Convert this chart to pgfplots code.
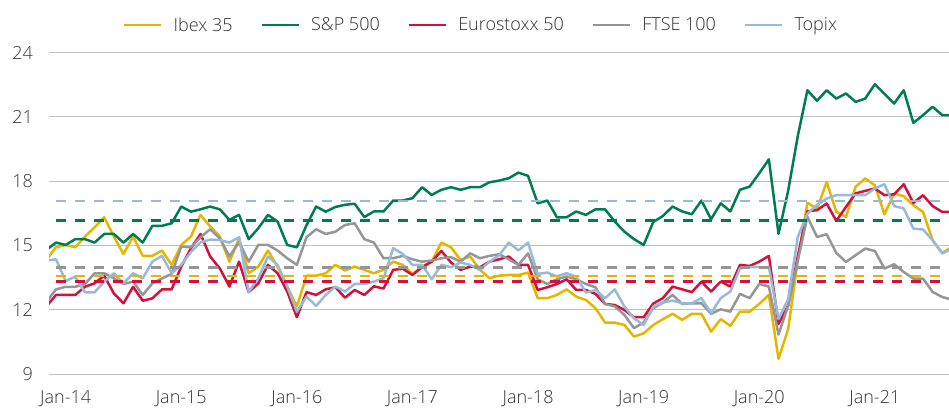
\documentclass[border=0pt]{standalone}
\usepackage{fontspec}
\setmainfont{Open Sans}[UprightFont={* Light}]
\usepackage{pgfplots}
\pgfplotsset{compat=1.18}
\usepackage{pgfplotstable}
\definecolor{ibex}{RGB}{229,181,0}
\definecolor{spx}{RGB}{0,125,80}
\definecolor{euro}{RGB}{210,18,60}
\definecolor{ftse}{RGB}{150,150,150}
\definecolor{topix}{RGB}{150,185,220}
\definecolor{gridc}{RGB}{192,192,192}
\definecolor{txt}{RGB}{50,50,50}
\pgfplotstableread{
m ibex sp euro ftse topix
-2 14.35 14.80 12.17 12.38 14.30
-1 14.92 15.14 12.70 12.96 14.36
0 15.03 15.03 12.70 13.08 13.35
1 14.92 15.30 12.70 13.08 13.55
2 15.42 15.30 13.08 13.21 12.82
3 15.85 15.14 13.24 13.71 12.82
4 16.32 15.54 13.60 13.71 13.32
5 15.42 15.54 12.77 13.47 13.71
6 14.61 15.14 12.31 13.21 13.24
7 15.42 15.54 13.08 13.32 13.71
8 14.52 15.14 12.43 12.70 13.47
9 14.52 15.92 12.54 13.24 14.25
10 14.77 15.92 12.96 13.47 14.52
11 14.10 16.04 12.96 13.68 13.71
12 15.03 16.82 14.02 14.95 14.10
13 15.42 16.58 14.87 14.92 14.70
14 16.43 16.69 15.54 15.39 15.15
15 15.89 16.82 14.49 15.76 15.28
16 15.42 16.69 13.94 15.34 15.26
17 14.25 16.20 13.09 14.50 15.14
18 15.34 16.43 14.25 15.15 15.39
19 13.71 15.30 12.83 14.25 12.83
20 14.02 15.81 13.24 15.03 13.48
21 14.77 16.43 14.10 15.03 14.49
22 14.02 16.12 13.71 14.77 14.10
23 13.09 15.03 12.86 14.41 13.09
24 12.16 14.92 11.66 14.10 11.92
25 13.60 15.95 12.83 15.39 12.62
26 13.60 16.82 12.70 15.76 12.19
27 13.71 16.58 12.96 15.54 12.70
28 14.10 16.80 13.06 15.65 13.09
29 13.84 16.90 12.57 15.96 12.86
30 14.02 16.95 12.93 16.04 13.21
31 13.87 16.33 12.70 15.30 13.21
32 13.71 16.59 13.10 15.14 13.32
33 13.87 16.59 13.00 14.41 13.48
34 14.25 17.10 13.87 14.41 14.88
35 14.10 17.10 13.92 14.52 14.61
36 13.68 17.21 13.63 14.36 14.10
37 14.02 17.72 13.99 14.25 14.10
38 14.25 17.36 14.25 14.30 13.43
39 15.14 17.60 14.75 14.41 14.10
40 14.92 17.72 14.21 14.46 13.99
41 14.33 17.60 13.87 14.25 14.21
42 14.49 17.72 14.02 14.64 14.10
43 13.87 17.72 13.99 14.41 13.87
44 13.48 17.95 14.25 14.52 14.25
45 13.60 18.03 14.36 14.60 14.55
46 13.63 18.14 14.49 14.36 15.14
47 13.63 18.40 14.10 14.10 14.77
48 13.74 18.25 14.10 14.64 15.14
49 12.55 16.97 12.93 13.43 13.68
50 12.55 17.10 13.06 13.21 13.74
51 12.70 16.32 13.21 13.43 13.56
52 12.96 16.32 13.43 13.56 13.71
53 12.62 16.59 12.93 13.43 13.56
54 12.47 16.43 12.93 13.21 12.81
55 12.08 16.69 12.75 13.06 12.93
56 11.41 16.69 12.28 12.28 12.55
57 11.41 16.12 12.23 12.16 12.96
58 11.30 15.65 12.00 11.77 12.16
59 10.76 15.30 11.66 11.15 11.61
60 10.91 15.03 11.66 11.42 11.30
61 11.30 16.10 12.30 12.08 12.16
62 11.57 16.38 12.55 12.34 12.34
63 11.82 16.82 13.09 12.70 12.44
64 11.54 16.59 12.96 12.28 12.31
65 11.82 16.46 12.83 12.31 12.31
66 11.82 17.10 13.32 12.31 12.55
67 10.99 16.23 12.86 11.82 11.85
68 11.57 16.97 13.32 12.03 12.55
69 11.26 16.59 13.09 11.92 12.86
70 11.92 17.60 14.10 12.75 13.94
71 11.92 17.75 14.05 12.55 14.00
72 12.28 18.37 14.25 13.21 14.00
73 12.70 19.02 14.52 13.09 14.00
74 9.72 15.55 11.35 10.85 11.58
75 11.10 17.55 12.20 12.20 12.50
76 14.30 20.10 14.50 14.30 15.40
77 17.00 22.24 16.60 16.34 16.49
78 16.70 21.75 16.65 15.40 16.90
79 17.97 22.24 16.96 15.53 17.19
80 16.57 21.85 16.15 14.66 17.35
81 16.34 22.09 16.80 14.24 17.35
82 17.74 21.70 17.43 14.55 17.35
83 18.13 21.85 17.55 14.86 17.35
84 17.81 22.52 17.66 14.75 17.66
85 16.46 22.07 17.35 13.93 17.86
86 17.43 21.62 17.39 14.13 16.84
87 17.30 22.24 17.86 13.77 16.73
88 16.88 20.72 16.99 13.46 15.79
89 16.57 21.08 17.35 13.46 15.75
90 15.25 21.47 16.84 12.84 15.25
91 14.66 21.08 16.57 12.60 14.63
92 14.94 21.08 16.57 12.48 14.86
}\data
\begin{document}
\begin{tikzpicture}
\useasboundingbox (0,0) rectangle (949pt,408pt);
\begin{axis}[
  at={(49pt,33.7pt)}, anchor=south west,
  scale only axis, width=900pt, height=321.8pt,
  xmin=-1.73, xmax=91.7, ymin=9, ymax=24,
  ytick={9,12,15,18,21,24},
  xtick={0,12,24,36,48,60,72,84},
  xticklabels={Jan-14,Jan-15,Jan-16,Jan-17,Jan-18,Jan-19,Jan-20,Jan-21},
  axis line style={draw=none},
  major tick length=0pt,
  ymajorgrids, grid style={gridc, line width=1.1pt},
  tick label style={font=\fontsize{18}{22}\selectfont, text=txt, inner sep=0pt},
  yticklabel style={anchor=east, xshift=-16pt},
  xticklabel style={anchor=north, yshift=-15.7pt},
  /pgf/number format/assume math mode=true,
  legend columns=5,
  legend style={at={(0.0822,1.0855)}, anchor=west, draw=none, fill=none, inner sep=0pt,
    font=\fontsize{18}{22}\selectfont,
    nodes={inner sep=0pt, text=txt},
    /tikz/every odd column/.append style={column sep=11pt},
    /tikz/every even column/.append style={column sep=28pt}},
  legend image code/.code={\draw[#1] (0pt,0pt) -- (37pt,0pt);},
  every axis plot/.append style={line width=2.5pt, line join=round},
]
\addplot[ibex] table[x=m,y=ibex]{\data}; \addlegendentry{Ibex 35}
\addplot[spx] table[x=m,y=sp]{\data}; \addlegendentry{S\&P 500}
\addplot[euro] table[x=m,y=euro]{\data}; \addlegendentry{Eurostoxx 50}
\addplot[ftse] table[x=m,y=ftse]{\data}; \addlegendentry{FTSE 100}
\addplot[topix] table[x=m,y=topix]{\data}; \addlegendentry{Topix}
\addplot[forget plot, topix, dash pattern=on 9.5pt off 9.5pt] coordinates {(-1,17.07) (91,17.07)};
\addplot[forget plot, spx, dash pattern=on 9.5pt off 9.5pt] coordinates {(-1,16.18) (91,16.18)};
\addplot[forget plot, ftse, dash pattern=on 9.5pt off 9.5pt] coordinates {(-1,13.98) (91,13.98)};
\addplot[forget plot, ibex, dash pattern=on 9.5pt off 9.5pt] coordinates {(-1,13.59) (91,13.59)};
\addplot[forget plot, euro, dash pattern=on 9.5pt off 9.5pt] coordinates {(-1,13.33) (91,13.33)};
\end{axis}
\end{tikzpicture}
\end{document}
